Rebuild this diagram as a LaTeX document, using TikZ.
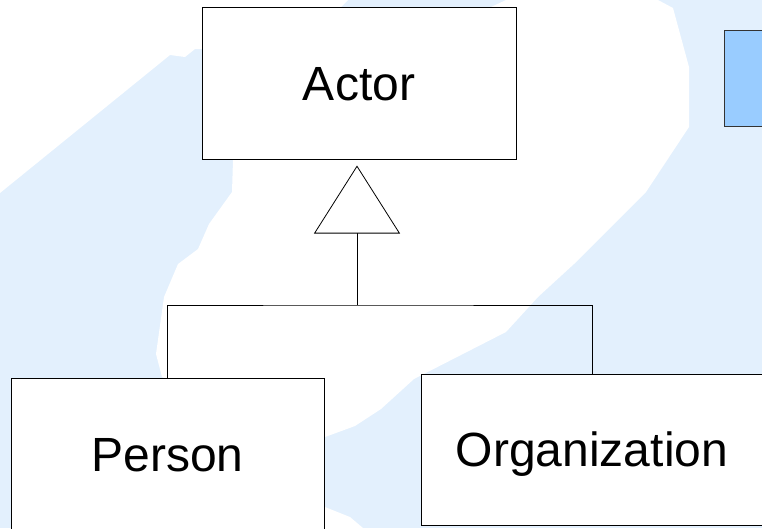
\documentclass[tikz,border=0pt]{standalone}
\usepackage{fontspec}
\setmainfont{Liberation Sans}
\usetikzlibrary{arrows.meta}

\definecolor{paleblue}{RGB}{227,240,253}
\definecolor{swatchblue}{RGB}{153,204,255}

\tikzset{
  classbox/.style={draw=black, line width=1pt, fill=white, inner sep=0pt,
    minimum width=314pt, minimum height=152pt,
    font=\fontsize{48}{58}\selectfont, text height=34pt, text depth=0pt},
  link/.style={draw=black, line width=0.9pt},
  gentip/.style={-{Triangle[open, fill=white, length=68pt, width=86pt, line width=0.8pt]}},
}

\begin{document}
\begin{tikzpicture}[x=1pt, y=-1pt]
  \clip (0,0) rectangle (762,528);
  \fill[paleblue] (0,0) rectangle (762,528);

  % white areas of the backdrop
  \fill[white] (0,0) -- (348,0) -- (340,8) -- (202,49) -- (195,49) -- (185,57)
    -- (170,55) -- (0,193) -- cycle;
  \fill[white] (506,0) -- (658,0) -- (673,8) -- (689,67) -- (689,127) -- (646,192)
    -- (574,264) -- (538,297) -- (506,332) -- (414,379) -- (381,409) -- (355,426)
    -- (325,437) -- (300,440) -- (162,377) -- (156,354) -- (164,297) -- (178,264)
    -- (198,249) -- (209,224) -- (232,192) -- (233,160) -- (300,60) -- (491,7) -- cycle;
  \fill[white] (300,505) -- (325,507) -- (350,517) -- (363,528) -- (300,528) -- cycle;

  % blue swatch at the right edge
  \node[draw=black!80, line width=1pt, fill=swatchblue, minimum width=90pt,
    minimum height=96pt, inner sep=0pt, anchor=north west] (swatch) at (724,30) {};

  % classes
  \node[classbox] (actor) at (359,83) {Actor};
  \node[classbox, minimum width=313pt] (person) at (167.5,454) {Person};
  \node[classbox, minimum width=342pt, minimum height=151pt] (org) at (592,449.5) {Organization};

  % generalization
  \coordinate (join) at (357,305);
  \draw[link] (person.north) |- (join) -| (org.north);
  \draw[link, gentip, shorten >=6pt] (join) -- (join |- actor.south);
\end{tikzpicture}
\end{document}
